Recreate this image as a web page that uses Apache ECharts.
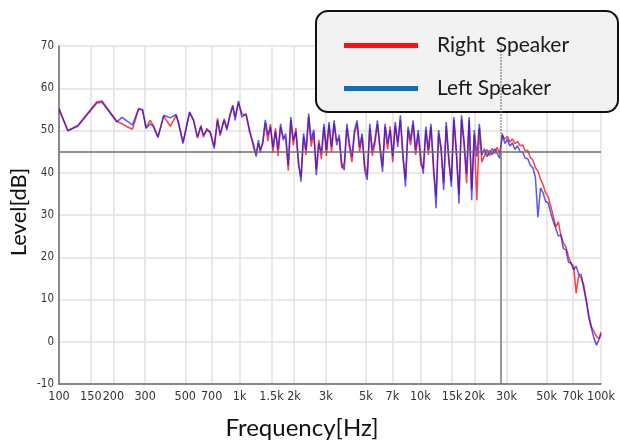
<!DOCTYPE html>
<html><head><meta charset="utf-8">
<script src="https://cdn.jsdelivr.net/npm/echarts@6/dist/echarts.min.js"></script>
<style>html,body{margin:0;padding:0;background:#fff}#c{width:620px;height:442px}</style>
</head><body><div id="c"></div>
<script>
// Frequencies in Hz
const frequencies = [
 100,112,127,162,173,209,223,238,255,276,290,303,320,333,353,380,413,445,459,486,
 528,555,584,610,630,659,687,723,754,780,821,849,886,916,944,985,1028,1086,1133,1192,1234,1270,
 1300,1343,1387,1433,1480,1529,1579,1631,1685,1741,1798,1858,1919,1982,2048,2115,2185,2257,2332,2409,
 2488,2570,2655,2743,2833,2927,3023,3123,3226,3333,3443,3556,3674,3795,3920,4050,4183,4321,4464,4611,
 4764,4921,5083,5251,5424,5603,5788,5979,6177,6380,6591,6808,7033,7265,7505,7753,8009,8273,8546,8828,
 9120,9421,9732,10053,10384,10727,11081,11447,11825,12215,12618,13034,13464,13909,14368,14842,15332,15838,16360,16900,
 17458,18034,18629,19244,19879,20535,21213,21913,22636,23383,24155,24952,25775,26626,27505,28412,29350,30319,31319,32353,
 33420,34523,35663,36840,38055,39311,40609,41949,43333,44763,46240,47766,49343,50971,52653,54391,56186,58040,59955,61934,
 63978,66089,68270,70523,72850,75254,77738,80303,82953,85691,88519,91440,94457,97574,100000
];
// Level [dB], Right speaker (red)
const rightSpeaker = [
 55.2,50.0,51.2,56.8,57.0,52.2,51.6,50.9,50.3,55.0,54.8,50.8,52.4,51.2,48.6,53.4,51.0,53.6,51.9,47.3,
 54.2,52.6,48.2,51.2,48.4,50.5,49.4,46.3,52.9,48.7,52.8,50.6,53.6,55.7,53.3,56.6,54.0,53.5,50.4,46.0,44.4,47.0,
 45.5,46.8,51.8,47.5,51.5,44.8,50.5,44.0,50.8,48.5,48.2,40.5,52.4,46.5,50.6,41.8,39.0,48.5,44.2,53.2,
 46.2,49.5,40.8,47.8,43.2,50.8,44.0,51.2,45.0,51.5,47.6,48.0,41.0,42.5,50.5,46.0,42.5,49.2,51.5,45.0,
 48.5,41.8,39.5,50.5,44.0,46.8,
 51.5,46.5,41.5,50.8,45.5,51.0,42.5,51.2,47.2,52.5,43.5,38.5,50.0,46.5,51.5,44.2,49.2,42.0,41.0,50.0,
 44.2,50.8,40.5,34.5,49.2,45.0,37.5,51.0,42.5,38.0,52.4,44.0,35.0,52.6,46.5,37.5,52.4,36.0,49.0,33.5,50.5,
 42.5,44.0,45.5,44.0,45.8,44.5,46.0,44.5,48.8,48.0,48.6,47.3,48.0,46.9,47.4,46.4,46.6,45.2,45.3,43.6,
 43.0,41.2,40.4,38.5,37.2,35.2,34.4,32.2,29.8,
 27.2,28.4,25.2,23.3,22.5,20.1,18.6,17.9,11.5,15.8,15.0,13.4,9.9,6.3,3.6,2.4,1.2,0.8,2.3
];
// Level [dB], Left speaker (blue)
const leftSpeaker = [
 55.0,49.9,51.0,56.5,56.7,52.0,53.1,52.2,51.3,55.2,55.0,50.5,51.6,50.9,48.3,53.6,53.0,53.8,51.6,46.9,
 54.4,52.4,48.5,50.9,48.9,50.1,49.7,45.7,52.4,49.3,52.4,50.1,54.0,56.0,52.4,57.0,53.2,54.0,49.7,46.9,43.8,47.7,
 44.8,47.5,52.5,48.9,50.9,46.0,49.8,45.6,51.6,47.7,49.3,41.8,53.2,47.7,49.7,43.0,37.9,49.3,45.4,54.0,
 47.7,50.2,39.4,46.9,44.6,51.6,45.4,52.0,46.1,52.4,46.5,49.0,42.2,40.6,51.6,47.0,43.8,50.1,52.4,46.1,
 49.3,40.6,38.3,51.6,45.4,47.7,
 52.4,45.4,40.2,51.6,46.9,50.1,43.8,52.0,46.1,53.6,44.6,36.7,50.9,47.7,52.4,45.4,50.1,43.8,39.8,50.9,
 45.4,51.6,42.2,31.6,50.1,46.1,35.9,52.0,43.8,36.7,53.2,45.4,32.7,53.6,47.7,39.8,53.2,33.5,50.1,43.8,51.6,
 44.2,45.7,43.8,45.3,44.2,45.7,44.6,43.4,49.3,46.9,47.9,46.3,47.1,45.5,46.4,45.0,44.9,43.5,43.3,41.8,
 41.2,39.0,29.5,36.4,35.3,33.2,32.9,30.5,28.5,
 26.8,25.0,25.3,22.0,21.8,18.8,18.6,17.0,17.9,16.0,15.9,12.5,9.5,5.5,3.2,0.8,-0.8,0.6,1.8
];
const xTickValues = [100,150,200,300,500,700,1000,1500,2000,3000,5000,7000,10000,15000,20000,30000,50000,70000,100000];
const yMin = -10, yMax = 70, yStep = 10;
const referenceLevel = 45;
const markerFrequency = 27800;
const seriesNames = ['Right  Speaker', 'Left Speaker'];

const tickFont = "'Liberation Sans Narrow','DejaVu Sans Condensed',Roboto,sans-serif";
function fmtFreq(v) {
  v = Math.round(v);
  return v >= 1000 ? (v / 1000) + 'k' : String(v);
}
const chart = echarts.init(document.getElementById('c'), null, {renderer: 'canvas'});
chart.setOption({
  animation: false,
  backgroundColor: '#ffffff',
  grid: {left: 59, right: 19, top: 46, bottom: 58, outerBoundsMode: 'none'},
  xAxis: {
    type: 'log', logBase: 10, min: 100, max: 100001,
    axisLine: {onZero: false, lineStyle: {color: '#6a6a6a', width: 1.5}},
    axisTick: {show: false, customValues: xTickValues},
    axisLabel: {customValues: xTickValues, formatter: fmtFreq, margin: 6, fontSize: 12.5,
      fontFamily: tickFont, color: '#333', hideOverlap: false, showMaxLabel: true, showMinLabel: true},
    splitLine: {show: true, lineStyle: {color: '#e2e2e2', width: 1.5}},
    minorSplitLine: {show: false}
  },
  yAxis: {
    type: 'value', min: yMin, max: yMax, interval: yStep,
    axisLine: {show: true, onZero: false, lineStyle: {color: '#6a6a6a', width: 1.5}},
    axisTick: {show: false},
    axisLabel: {margin: 5, fontSize: 11.5, fontFamily: tickFont, color: '#333'},
    splitLine: {show: true, lineStyle: {color: '#e2e2e2', width: 1.5}}
  },
  legend: {
    orient: 'vertical', left: 339, top: 30, z: 10,
    itemWidth: 74, itemHeight: 5, itemGap: 22, icon: 'rect', selectedMode: false,
    textStyle: {fontFamily: 'Lato', fontSize: 21, color: '#1a1a1a', padding: [0, 0, 0, 14]},
    data: [
      {name: seriesNames[0], itemStyle: {color: '#ff1010'}},
      {name: seriesNames[1], itemStyle: {color: '#0a6fc2'}}
    ]
  },
  graphic: [
    {type: 'rect', z: 5, shape: {x: 316, y: 11, width: 302, height: 101, r: 12},
      style: {fill: '#f2f2f2', stroke: '#111', lineWidth: 2}},
    {type: 'text', z: 5, x: 19, y: 212, rotation: Math.PI / 2,
      style: {text: 'Level[dB]', font: '22px Lato', fill: '#111', align: 'center', verticalAlign: 'middle',
        textAlign: 'center', textVerticalAlign: 'middle'}},
    {type: 'text', z: 5, x: 302, y: 428,
      style: {text: 'Frequency[Hz]', font: '24px Lato', fill: '#111', align: 'center', verticalAlign: 'middle',
        textAlign: 'center', textVerticalAlign: 'middle'}}
  ],
  series: [
    {
      name: seriesNames[0], type: 'line', symbol: 'none', silent: true, z: 2,
      data: frequencies.map((f, i) => [f, rightSpeaker[i]]),
      lineStyle: {color: '#ff0000', width: 1.5, opacity: 0.75},
      itemStyle: {color: '#ff0000'},
      markLine: {
        silent: true, symbol: ['none', 'none'], label: {show: false},
        data: [
          {yAxis: referenceLevel, lineStyle: {color: '#6e6e6e', width: 1.5, type: 'solid'}},
          [{coord: [markerFrequency, yMin], lineStyle: {color: '#777', width: 1.5, type: 'solid'}},
           {coord: [markerFrequency, referenceLevel]}],
          [{coord: [markerFrequency, referenceLevel], lineStyle: {color: '#777', width: 1.5, type: 'dotted'}},
           {coord: [markerFrequency, yMax]}]
        ]
      }
    },
    {
      name: seriesNames[1], type: 'line', symbol: 'none', silent: true, z: 3,
      data: frequencies.map((f, i) => [f, leftSpeaker[i]]),
      lineStyle: {color: '#1010ee', width: 1.5, opacity: 0.7},
      itemStyle: {color: '#1010ee'}
    }
  ]
});
</script></body></html>
